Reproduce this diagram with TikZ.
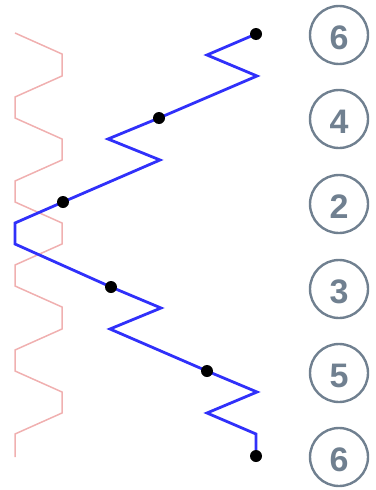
\documentclass[tikz,border=0pt]{standalone}
\usepackage{fontspec}
\setmainfont{Liberation Sans}
\begin{document}
\begin{tikzpicture}[x=1pt,y=-1pt,
  numcircle/.style={circle,draw=slate,line width=2.4pt,minimum size=58pt,inner sep=0pt},
  numtext/.style={text=slate,font=\fontsize{34}{34}\selectfont\bfseries,inner sep=0pt},
  dotnode/.style={circle,fill=black,inner sep=0pt,minimum size=12pt},
  zig/.style={draw=zigblue,line width=2.8pt,line join=miter},
  pinkline/.style={draw=pinkz,line width=1.5pt}]
\definecolor{slate}{RGB}{112,128,144}
\definecolor{zigblue}{RGB}{48,48,250}
\definecolor{pinkz}{RGB}{240,176,176}
\useasboundingbox (0,0) rectangle (375,490);
% pink zigzag
\draw[pinkline] (15,33) -- (62,54) -- (62,76) -- (15,97) -- (15,118) -- (62,139) -- (62,160)
  -- (15,181) -- (15,202) -- (62,223) -- (62,244) -- (15,265) -- (15,286) -- (62,307)
  -- (62,329) -- (15,350) -- (15,371) -- (62,392) -- (62,413) -- (15,434) -- (15,457);
% circles with numbers
\node[numcircle] (c1) at (339,35) {};
\node[numcircle] (c2) at (339,119) {};
\node[numcircle] (c3) at (339,204) {};
\node[numcircle] (c4) at (339,289) {};
\node[numcircle] (c5) at (339,373) {};
\node[numcircle] (c6) at (339,457) {};
\node[numtext] (t1) at ([yshift=-2.5pt]c1.center) {6};
\node[numtext] (t2) at ([yshift=-2.5pt]c2.center) {4};
\node[numtext] (t3) at ([yshift=-2.5pt]c3.center) {2};
\node[numtext] (t4) at ([yshift=-2.5pt]c4.center) {3};
\node[numtext] (t5) at ([yshift=-2.5pt]c5.center) {5};
\node[numtext] (t6) at ([yshift=-2.5pt]c6.center) {6};
% blue path corners
\coordinate (a1) at (207,55);
\coordinate (a2) at (257,76);
\coordinate (b1) at (108,139);
\coordinate (b2) at (160,160);
\coordinate (d1) at (15,223);
\coordinate (d2) at (15,244);
\coordinate (e1) at (161,308);
\coordinate (e2) at (110,329);
\coordinate (f1) at (257,392);
\coordinate (f2) at (207,413);
\coordinate (f3) at (256,434);
% dots
\coordinate (p1) at (256,34);
\coordinate (p2) at (159,118);
\coordinate (p3) at (63,202);
\coordinate (p4) at (111,287);
\coordinate (p5) at (207,371);
\coordinate (p6) at (256,456);
\draw[zig] (p1) -- (a1) -- (a2) -- (p2) -- (b1) -- (b2) -- (p3) -- (d1) -- (d2) -- (p4)
  -- (e1) -- (e2) -- (p5) -- (f1) -- (f2) -- (f3) -- (p6);
\node[dotnode] (n1) at (p1) {};
\node[dotnode] (n2) at (p2) {};
\node[dotnode] (n3) at (p3) {};
\node[dotnode] (n4) at (p4) {};
\node[dotnode] (n5) at (p5) {};
\node[dotnode] (n6) at (p6) {};
\end{tikzpicture}
\end{document}
